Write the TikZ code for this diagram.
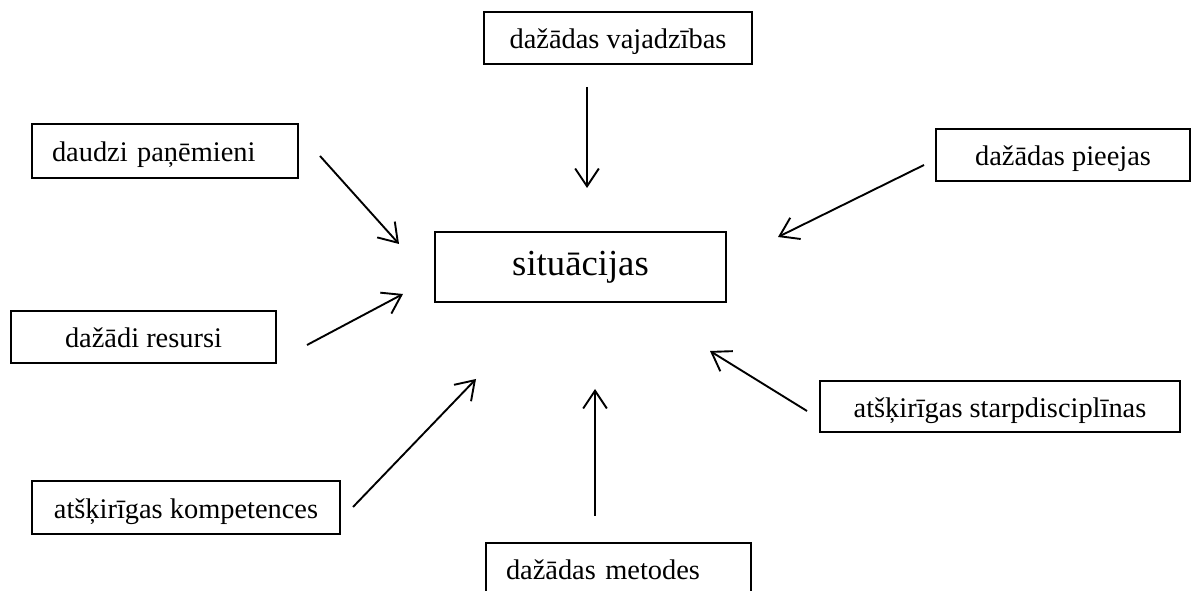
\documentclass[tikz,border=0pt]{standalone}
\usepackage{fontspec}
\setmainfont{Liberation Serif}
\usepackage{tikz}
\usetikzlibrary{arrows.meta}
\newcommand{\pxlen}{0.4225pt}

\begin{document}
\begin{tikzpicture}[x=0.4225pt,y=-0.4225pt,line width=0.8pt,
  >={Straight Barb[length=7.5pt,width=10pt]},
  box/.style={draw,inner sep=0pt,minimum height=52*\pxlen,text height=10pt,text depth=1.1pt,font=\fontsize{12}{14}\selectfont},
  leftbox/.style={box,align=left,inner xsep=20*\pxlen,text width=#1*\pxlen}]
\useasboundingbox(0,0)rectangle(1192,591);
% boxes
\node[box,minimum width=291*\pxlen,minimum height=70*\pxlen,text height=12pt,text depth=4.4pt,font=\fontsize{15.5}{18}\selectfont](sit)at(580.5,267){situācijas};
\node[box,minimum width=268*\pxlen](vaj)at(618,38){dažādas vajadzības};
\node[leftbox=226,minimum height=54*\pxlen](pan)at(165,151){daudzi paņēmieni};
\node[box,minimum width=254*\pxlen](pie)at(1063,155){dažādas pieejas};
\node[box,minimum width=265*\pxlen](res)at(143.5,337){dažādi resursi};
\node[box,minimum width=308*\pxlen,minimum height=53*\pxlen](kom)at(186,507.5){atšķirīgas kompetences};
\node[box,minimum width=360*\pxlen,minimum height=51*\pxlen](sta)at(1000,406.5){atšķirīgas starpdisciplīnas};
\node[leftbox=225](met)at(618.5,569){dažādas metodes};
% arrow ends
\coordinate(vaj1)at(587,87);\coordinate(vaj2)at(587,188);
\coordinate(pan1)at(320,156);\coordinate(pan2)at(399,244);
\coordinate(pie1)at(924,165);\coordinate(pie2)at(778,237);
\coordinate(res1)at(307,345);\coordinate(res2)at(403,294);
\coordinate(kom1)at(353,507);\coordinate(kom2)at(476,379);
\coordinate(met1)at(595,516);\coordinate(met2)at(595,389);
\coordinate(sta1)at(807,411);\coordinate(sta2)at(710,351);
\foreach \a in {vaj,pan,pie,res,kom,met,sta}
  \draw[->](\a1)--(\a2);
\end{tikzpicture}
\end{document}
